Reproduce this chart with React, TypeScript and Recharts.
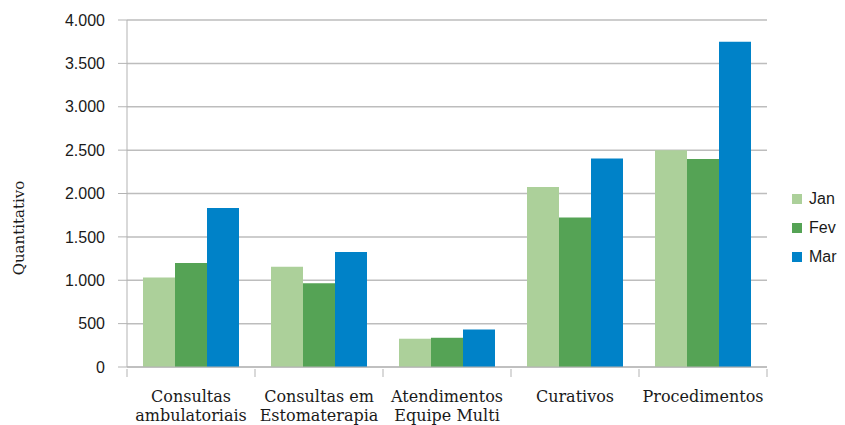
import { BarChart, Bar, XAxis, YAxis, CartesianGrid } from 'recharts'

const categories = [
  ['Consultas', 'ambulatoriais'],
  ['Consultas em', 'Estomaterapia'],
  ['Atendimentos', 'Equipe Multi'],
  ['Curativos', ''],
  ['Procedimentos', ''],
]
const jan = [1033, 1157, 326, 2076, 2499]
const fev = [1198, 964, 337, 1722, 2399]
const mar = [1833, 1325, 433, 2403, 3750]
const yTicks = [0, 500, 1000, 1500, 2000, 2500, 3000, 3500, 4000]

const series = [
  { key: 'jan', name: 'Jan', color: '#acd09a' },
  { key: 'fev', name: 'Fev', color: '#55a355' },
  { key: 'mar', name: 'Mar', color: '#0082c8' },
]

const data = categories.map((c, i) => ({ cat: c.join('\n'), jan: jan[i], fev: fev[i], mar: mar[i] }))

const fmt = (v: number) => new Intl.NumberFormat('pt-BR').format(v)

function CatTick({ x, y, payload, index }: any) {
  const half = payload?.offset || 64
  const lines = String(payload.value).split('\n')
  return (
    <g>
      <line x1={x - half} y1={y - 8} x2={x - half} y2={y} stroke="#b3b3b3" />
      {index === categories.length - 1 && <line x1={x + half} y1={y - 8} x2={x + half} y2={y} stroke="#b3b3b3" />}
      <text x={x} y={y + 25} textAnchor="middle" fontFamily="DejaVu Serif" fontSize={16} fill="#1a1a1a">
        {lines.map((l, i) => (
          <tspan key={i} x={x} dy={i === 0 ? 0 : 19}>{l}</tspan>
        ))}
      </text>
    </g>
  )
}

function LegendBox() {
  return (
    <div style={{ position: 'absolute', left: 792, top: 184, fontFamily: 'Liberation Sans', fontSize: 16, color: '#1a1a1a' }}>
      {series.map((s) => (
        <div key={s.key} style={{ display: 'flex', alignItems: 'center', height: 29 }}>
          <span style={{ width: 10, height: 10, background: s.color, marginRight: 7, display: 'inline-block' }} />
          {s.name}
        </div>
      ))}
    </div>
  )
}

export default function App() {
  return (
    <div style={{ position: 'absolute', left: 0, top: 0, width: 845, height: 425, background: '#fff', overflow: 'hidden' }}>
      <BarChart width={845} height={425} data={data} margin={{ top: 20, right: 78, left: 0, bottom: 0 }} barCategoryGap="12.5%" barGap={0}>
        <CartesianGrid vertical={false} stroke="#bdbdbd" strokeWidth={1.5} />
        <XAxis dataKey="cat" height={58} interval={0} stroke="#b3b3b3" tickLine={false} tickSize={8} tick={<CatTick />} />
        <YAxis
          width={127}
          domain={[0, 4000]}
          ticks={yTicks}
          tickFormatter={fmt}
          tickSize={9}
          tickMargin={13}
          stroke="#b3b3b3"
          tick={{ fill: '#1a1a1a', fontFamily: 'Liberation Sans', fontSize: 16 }}
          label={() => (
            <text x={24} y={228} transform="rotate(-90 24 228)" textAnchor="middle" fontFamily="DejaVu Serif" fontSize={15} fill="#1a1a1a">Quantitativo</text>
          )}
        />
        <YAxis yAxisId="r" orientation="right" width={0} tick={false} tickLine={false} stroke="#c4c4c4" domain={[0, 4000]} />
        {series.map((s) => (
          <Bar key={s.key} dataKey={s.key} name={s.name} fill={s.color} isAnimationActive={false} />
        ))}
      </BarChart>
      <LegendBox />
    </div>
  )
}
